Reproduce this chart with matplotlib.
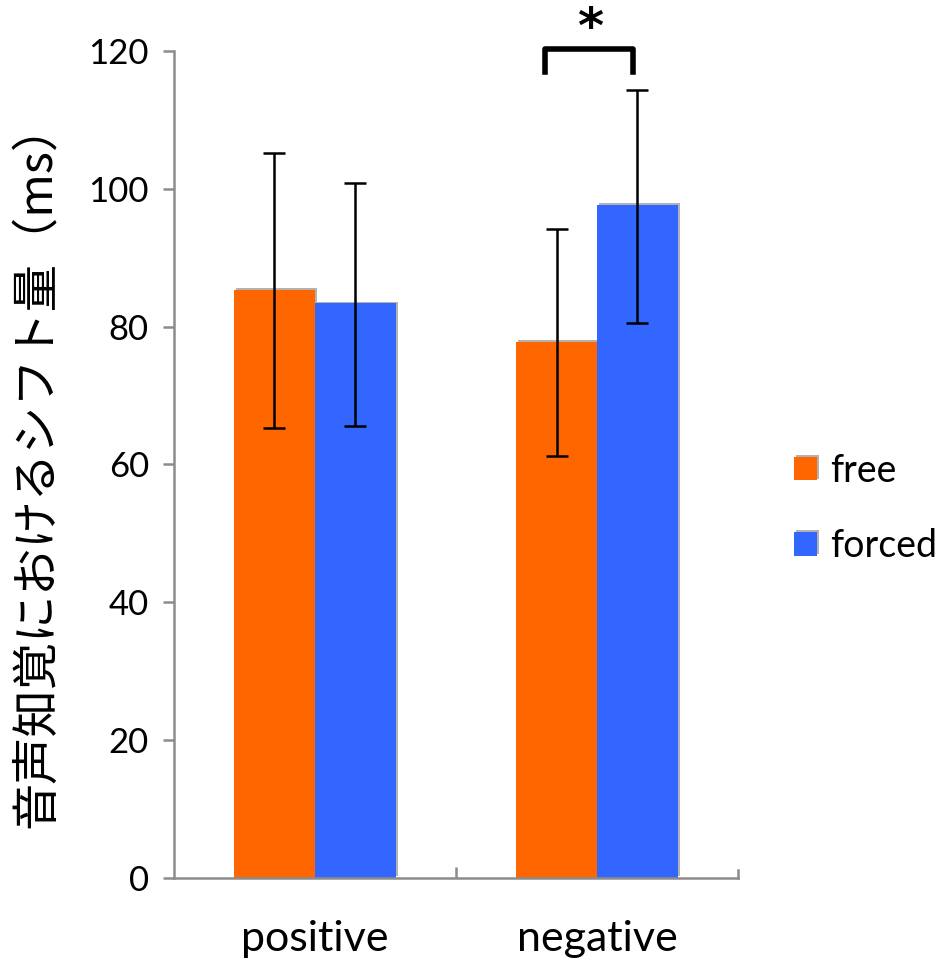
import numpy as np
import matplotlib.pyplot as plt
import matplotlib.patheffects as pe

# データ
categories = ['positive', 'negative']
groups = ['free', 'forced']
free_mean = [85.3, 77.8]
forced_mean = [83.4, 97.7]
free_hi = [105.2, 94.2]
free_lo = [65.3, 61.2]
forced_hi = [100.9, 114.4]
forced_lo = [65.6, 80.5]
yticks = [0, 20, 40, 60, 80, 100, 120]

c_free = '#ff6600'
c_forced = '#3366ff'
gray = '#8c8c8c'

fig = plt.figure(figsize=(9.49, 9.6), dpi=100)
ax = fig.add_axes([0.1833, 0.0854, 0.5944, 0.8615])

x = np.arange(len(categories))
w = 0.287
shadow = [pe.SimplePatchShadow(offset=(1.2, 1.2), shadow_rgbFace='k', alpha=0.3), pe.Normal()]

b1 = ax.bar(x - w / 2, free_mean, w, color=c_free, label='free', zorder=2, linewidth=0)
b2 = ax.bar(x + w / 2, forced_mean, w, color=c_forced, label='forced', zorder=2, linewidth=0)
for b in list(b1) + list(b2):
    b.set_path_effects(shadow)

# エラーバー
fm = np.array(free_mean)
gm = np.array(forced_mean)
ax.errorbar(x - w / 2, fm, yerr=[fm - np.array(free_lo), np.array(free_hi) - fm],
            fmt='none', ecolor='k', elinewidth=1.8, capsize=8, capthick=1.8, zorder=3)
ax.errorbar(x + w / 2, gm, yerr=[gm - np.array(forced_lo), np.array(forced_hi) - gm],
            fmt='none', ecolor='k', elinewidth=1.8, capsize=8, capthick=1.8, zorder=3)

ax.set_xlim(-0.5, 1.5)
ax.set_ylim(0, 120)
ax.set_yticks(yticks)
ax.set_yticklabels([str(v) for v in yticks], fontsize=25, family='Lato')
ax.set_xticks([0.5])
ax.set_xticklabels([''])
for i, c in enumerate(categories):
    ax.text(i, -0.074, c, transform=ax.get_xaxis_transform(), ha='center', va='center',
            fontsize=31, family='Lato')

# 軸
for s in ['top', 'right']:
    ax.spines[s].set_visible(False)
for s in ['left', 'bottom']:
    ax.spines[s].set_color(gray)
    ax.spines[s].set_linewidth(1.8)
ax.tick_params(axis='y', direction='out', length=8, width=1.8, color=gray, pad=10)
ax.tick_params(axis='x', direction='in', length=8, width=1.8, color=gray)
ax.plot([1.5, 1.5], [0, 1.2], color=gray, lw=1.8, clip_on=False)

ax.set_ylabel('音声知覚におけるシフト量（ms）', fontsize=34,
              family=['Noto Sans CJK JP', 'DejaVu Sans'], labelpad=20)

# 有意差
ax.plot([0.816, 0.816, 1.128, 1.128], [117, 120.3, 120.3, 117], color='k', lw=4,
        solid_joinstyle='round', clip_on=False)
ax.text(0.975, 123.2, '*', ha='center', va='center', fontsize=36, fontweight='bold',
        family='DejaVu Sans')

leg = ax.legend(loc='center left', bbox_to_anchor=(1.04, 0.447), frameon=False,
                prop={'family': 'Lato', 'size': 27}, handlelength=0.6, handleheight=0.6,
                handletextpad=0.35, labelspacing=1.05)

fig.savefig('out.png', dpi=100)
